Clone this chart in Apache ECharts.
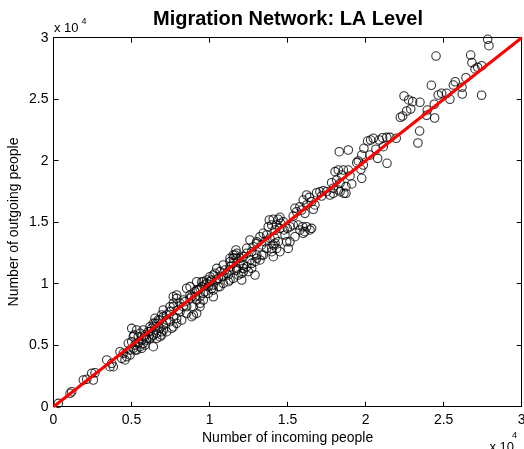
<!DOCTYPE html>
<html><head><meta charset="utf-8">
<script src="https://cdn.jsdelivr.net/npm/echarts@6/dist/echarts.min.js"></script>
<style>html,body{margin:0;padding:0;background:#fff}#c{width:524px;height:449px}</style>
</head><body><div id="c"></div>
<script>
// [incoming, outgoing] pairs
const topRegion = [[27820,29870],[27900,29350],[24510,28510],[26730,28590],[26810,27970],[27010,27460],[27180,27590],[27430,27720],[27430,25320],[26430,26750],[25740,26420],[25620,26150],[26170,25970],[26190,25420],[24210,26130],[24650,25340],[24870,25480],[25190,25480],[25400,24990],[24400,24590],[23950,24120],[23910,23690],[24420,23470],[22460,25260],[22760,24940],[23010,24800],[23480,24750],[22890,24200],[22630,24040],[22370,23630],[22220,23530],[23460,22410],[23350,21440],[21960,21820],[21560,21900],[21350,21900],[21090,21870],[20870,21680],[20490,21820],[20320,21680],[20130,21600],[21130,21140],[20660,20930],[19890,21010],[19530,19980],[19430,19840],[18890,20870],[18310,20730],[21370,19790],[20770,20190],[19750,20460],[20280,20460],[19850,19650],[19700,19300],[19750,18570],[18890,19240],[18570,19240],[19000,18760],[19110,18110],[18740,17890],[18610,17350],[18740,17350],[18360,17480],[18040,19110],[18250,19240],[18460,18840],[17820,18210],[18140,18430],[18360,18160],[17930,17760],[18250,17620]];
const upperMid = [[16860,17400],[17070,17480],[17290,17560],[17500,17480],[17180,17130],[17720,17210],[17930,17350],[16220,17210],[16390,17020],[16000,16800],[16540,16670],[16220,16400],[15790,16260],[15470,16130],[15580,15850],[15360,15500],[16650,16050],[16750,16400],[15900,15990],[16110,15720],[14510,15400],[15680,14770],[15970,14630],[16220,14630],[16430,14370],[16110,14230],[15790,14370],[15360,14770],[15150,14630],[14940,13410],[15150,13410],[15040,12870],[15470,13820],[16000,14100],[16540,14500],[13830,15180],[14080,15240],[14400,15240],[14560,14910],[14300,14770],[13980,14770],[13760,14630],[14510,14500],[14190,14370],[14770,14370],[14980,14500],[14723,15041],[14832,13959]];
const midRegion = [[13440,14100],[13660,13960],[13230,13820],[13870,13690],[14190,13690],[13550,13410],[14080,13150],[14300,12870],[14510,12600],[13980,12600],[13660,12870],[13340,13150],[13020,13280],[12800,13010],[12700,12600],[12380,12470],[12160,12200],[12590,11930],[12910,11790],[13230,11930],[13440,12330],[13020,12330],[11740,12060],[11950,11660],[11520,11660],[11310,11380],[11740,11250],[12160,11250],[12380,11380],[12060,10840],[12480,10980],[12700,11250],[10460,11250],[10670,10980],[10240,10710],[10880,10570],[11200,10710],[10990,11110],[10560,10440],[10140,10300],[12060,10300],[11520,12330],[11310,11790],[11520,12060],[11740,12470],[11690,12740],[13020,13415],[12590,13553],[12378,12878],[11949,12065],[11308,11114],[12699,11658],[13020,12065],[13339,12333],[13980,12878],[14192,13284],[14403,13415],[12161,11520],[11738,11114],[11308,12065],[11629,12333],[10879,11520],[12910,10707],[14083,12195],[11840,10707],[12161,10976],[11199,10163],[11520,10439],[10879,10032],[10559,9756],[10238,9488],[10347,10845],[10027,10569],[10456,10301],[10136,9626]];
const lowerMid = [[8960,7460],[10240,8940],[9500,10160],[9820,10300],[9175,10160],[7890,8810],[7680,8410],[8530,9630],[8750,9760],[7676,8130],[8105,8406],[8316,8675],[8534,8130],[9175,8675],[9386,8943],[9598,9219],[9918,9756],[10238,9894],[10777,10569],[11097,10845],[10027,10163],[9598,10163],[9175,9488],[8746,9081],[11308,10301],[10668,9756],[8957,8130],[9386,8130],[8105,7724],[8534,7593],[7893,7187],[7464,6911],[7035,6642],[7676,6504],[7253,6098],[6823,5691],[7035,7862],[7464,8130],[7676,8943],[7893,9081],[8425,8537],[8746,8813],[9066,8943],[9277,9488],[9495,9756],[9816,10032],[9918,9219],[9598,8675],[9386,8406],[9175,7593],[8854,7317],[8214,7049],[7893,6780],[7573,6374],[7253,7049],[7676,7317],[7996,7862],[8316,8130],[9707,9350],[9707,9894],[9386,9626],[9066,9350],[8854,8943]];
const lowRegion = [[310,270],[1060,1090],[1170,1220],[1910,2170],[2130,2230],[2450,2720],[2660,2760],[2550,2170],[3410,3800],[3730,3530],[3830,3250],[3620,3250],[4260,4470],[4470,4340],[4690,4070],[4370,3930],[4580,3800],[5010,5285],[5222,5016],[5433,5154],[5113,4748],[4901,4610],[5331,4610],[5542,4878],[5651,5423],[5433,5691],[5862,5829],[6074,6098],[6292,6374],[6503,6780],[6715,7049],[6932,7455],[6503,7187],[6183,6504],[5971,5561],[5753,5154],[6715,6504],[6932,6098],[6394,5829],[5010,6370],[5330,6240],[5160,5830],[5540,5970],[5860,5690],[6180,6100],[6610,6780],[6820,7050],[7040,7320],[7250,7460],[7460,7720],[6610,5970],[6180,5560],[7040,6240],[4792,5154],[5113,5691],[5222,4610],[4901,4203],[5753,6236],[6394,6780],[6932,5829],[6612,5561],[6292,5691],[5971,5423],[6823,6374],[6394,4878],[5862,5016],[5651,4748]];
const tickLabels = ['0','0.5','1','1.5','2','2.5','3'];
const fitLine = [[0,0],[30000,30000]];

const FONT = '"Liberation Sans", Arial, Helvetica, sans-serif';
const points = [].concat(topRegion, upperMid, midRegion, lowerMid, lowRegion);
const chart = echarts.init(document.getElementById('c'), null, {renderer:'canvas'});
const fmt = v => tickLabels[Math.round(v/5000)];
function xAx(pos, labels){
  return {type:'value', min:0, max:30000, interval:5000, position:pos,
    axisLine:{show:true, onZero:false, lineStyle:{color:'#000', width:1}},
    axisTick:{show:true, inside:true, length:5, lineStyle:{color:'#000'}},
    axisLabel:{show:labels, color:'#000', fontSize:14, fontFamily:FONT, margin:6, formatter:fmt},
    splitLine:{show:false}};
}
function yAx(pos, labels){
  return {type:'value', min:0, max:30000, interval:5000, position:pos,
    axisLine:{show:true, onZero:false, lineStyle:{color:'#000', width:1}},
    axisTick:{show:true, inside:true, length:5, lineStyle:{color:'#000'}},
    axisLabel:{show:labels, color:'#000', fontSize:14, fontFamily:FONT, margin:5, formatter:fmt},
    splitLine:{show:false}};
}
chart.setOption({
  animation:false,
  backgroundColor:'#fff',
  grid:{left:53.5, right:2.3, top:37.7, bottom:42.3, show:false, containLabel:false, outerBoundsMode:'none'},
  xAxis:[xAx('bottom', true), xAx('top', false)],
  yAxis:[yAx('left', true), yAx('right', false)],
  series:[
    {type:'scatter', xAxisIndex:0, yAxisIndex:0, data:points, symbol:'circle', symbolSize:8.5,
      itemStyle:{color:'rgba(0,0,0,0)', borderColor:'#000', borderWidth:1.1}, z:2, silent:true},
    {type:'line', xAxisIndex:0, yAxisIndex:0, data:fitLine, symbol:'none', silent:true,
      lineStyle:{color:'#ff0000', width:3}, z:3}
  ],
  graphic:[
    {type:'text', x:288, y:19, style:{text:'Migration Network: LA Level', font:'bold 20px '+FONT, fill:'#000', textAlign:'center', textVerticalAlign:'middle'}},
    {type:'text', x:54, y:28, style:{text:'x 10', font:'13px '+FONT, fill:'#000', textAlign:'left', textVerticalAlign:'middle'}},
    {type:'text', x:81.5, y:21.5, style:{text:'4', font:'9px '+FONT, fill:'#000', textAlign:'left', textVerticalAlign:'middle'}},
    {type:'text', x:489.5, y:447.5, style:{text:'x 10', font:'13px '+FONT, fill:'#000', textAlign:'left', textVerticalAlign:'middle'}},
    {type:'text', x:512, y:436, style:{text:'4', font:'9px '+FONT, fill:'#000', textAlign:'left', textVerticalAlign:'middle'}},
    {type:'text', x:287.6, y:438, style:{text:'Number of incoming people', font:'14px '+FONT, fill:'#000', textAlign:'center', textVerticalAlign:'middle'}},
    {type:'text', x:14, y:222, rotation:Math.PI/2, style:{text:'Number of outgoing people', font:'14px '+FONT, fill:'#000', textAlign:'center', textVerticalAlign:'middle'}}
  ]
});
</script>
</body></html>
